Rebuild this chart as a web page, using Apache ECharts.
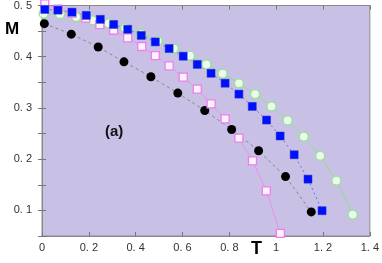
<!DOCTYPE html>
<html><head><meta charset="utf-8">
<script src="https://cdn.jsdelivr.net/npm/echarts@6/dist/echarts.min.js"></script>
<style>html,body{margin:0;padding:0;background:#fff}#c{width:382px;height:263px}</style>
</head><body><div id="c"></div>
<script>
// Black filled circles
const blackT = [0.01, 0.125, 0.24, 0.35, 0.465, 0.58, 0.695, 0.81, 0.925, 1.04, 1.15];
const blackM = [0.4645, 0.444, 0.419, 0.390, 0.361, 0.329, 0.295, 0.258, 0.2165, 0.166, 0.097];
// Blue filled squares
const blueT = [0.012, 0.068, 0.128, 0.189, 0.249, 0.306, 0.366, 0.424, 0.484, 0.543, 0.603, 0.663, 0.722, 0.782, 0.841, 0.898, 0.959, 1.017, 1.077, 1.136, 1.196];
const blueM = [0.4923, 0.491, 0.487, 0.4807, 0.473, 0.463, 0.4536, 0.4416, 0.429, 0.416, 0.401, 0.385, 0.3677, 0.3483, 0.327, 0.303, 0.2764, 0.2452, 0.2086, 0.161, 0.0994];
// Green open circles
const greenT = [0.007, 0.077, 0.146, 0.216, 0.285, 0.355, 0.424, 0.494, 0.563, 0.632, 0.702, 0.771, 0.841, 0.910, 0.980, 1.049, 1.118, 1.188, 1.257, 1.327];
const greenM = [0.484, 0.483, 0.4774, 0.471, 0.465, 0.456, 0.4445, 0.431, 0.416, 0.402, 0.385, 0.367, 0.348, 0.327, 0.303, 0.2756, 0.244, 0.2065, 0.158, 0.0917];
// Pink open squares
const pinkT = [0.012, 0.068, 0.128, 0.187, 0.247, 0.306, 0.366, 0.426, 0.484, 0.543, 0.603, 0.663, 0.722, 0.782, 0.841, 0.899, 0.958, 1.018];
const pinkM = [0.503, 0.493, 0.485, 0.4755, 0.4625, 0.4517, 0.4368, 0.42, 0.402, 0.382, 0.36, 0.3367, 0.308, 0.2785, 0.241, 0.1968, 0.1382, 0.055];

const zip = (a, b) => a.map((v, i) => [v, b[i]]);
const fmt = v => { const r = Math.round(v * 10) / 10; return r === 0 ? '0' : (r === 1 ? '1' : String(r).replace('.', '. ')); };
const axisLine = { lineStyle: { color: '#8a8a8a', width: 1 } };
const tick = { inside: true, length: 4, lineStyle: { color: '#777' } };
const lab = { color: '#333', fontSize: 11, fontFamily: 'Liberation Sans, Arial, sans-serif' };

const chart = echarts.init(document.getElementById('c'), null, { renderer: 'canvas' });
chart.setOption({
  animation: false,
  backgroundColor: '#ffffff',
  grid: { left: 42, right: 12, top: 4, bottom: 27, show: true, backgroundColor: '#c8c1e5', borderColor: '#8a8a8a', borderWidth: 1 },
  xAxis: [
    { type: 'value', min: 0, max: 1.4, interval: 0.2, position: 'bottom', axisLine, axisTick: tick, splitLine: { show: false },
      axisLabel: Object.assign({ formatter: fmt, margin: 6 }, lab) },
    { type: 'value', min: 0, max: 1.4, interval: 0.2, position: 'top', axisLine, axisTick: tick, splitLine: { show: false }, axisLabel: { show: false } }
  ],
  yAxis: [
    { type: 'value', min: 0.05, max: 0.5, interval: 0.05, position: 'left', axisLine: Object.assign({ show: true }, axisLine), axisTick: tick, splitLine: { show: false },
      axisLabel: Object.assign({ margin: 10, formatter: v => (Math.round(v * 100) % 10 === 0 ? fmt(v) : '') }, lab) },
    { type: 'value', min: 0.05, max: 0.5, interval: 0.05, position: 'right', axisLine: Object.assign({ show: true }, axisLine), axisTick: tick, splitLine: { show: false }, axisLabel: { show: false } }
  ],
  series: [
    { type: 'line', data: zip(blackT, blackM), clip: false, symbol: 'circle', symbolSize: 9,
      itemStyle: { color: '#000' }, lineStyle: { color: '#888', width: 1, type: [3, 3] } },
    { type: 'line', data: zip(greenT, greenM), clip: false, symbol: 'circle', symbolSize: 9,
      itemStyle: { color: '#eef8ee', borderColor: '#8ee88e', borderWidth: 1.3 }, lineStyle: { color: '#90e090', width: 1 } },
    { type: 'line', data: zip(pinkT, pinkM), clip: false, symbol: 'rect', symbolSize: 8,
      itemStyle: { color: '#fbf4fb', borderColor: '#f07cf0', borderWidth: 1.3 }, lineStyle: { color: '#e890e8', width: 1 } },
    { type: 'line', data: zip(blueT, blueM), clip: false, symbol: 'rect', symbolSize: 8,
      itemStyle: { color: '#0010ff', borderColor: '#2030c0', borderWidth: 0.5 }, lineStyle: { color: '#6a70e8', width: 1, type: [2, 3] } }
  ],
  graphic: [
    { type: 'text', left: 5, top: 21, style: { text: 'M', font: 'bold 17px Liberation Sans, Arial, sans-serif', fill: '#000' } },
    { type: 'text', left: 251, top: 240, style: { text: 'T', font: 'bold 18px Liberation Sans, Arial, sans-serif', fill: '#000' } },
    { type: 'text', left: 105, top: 124, style: { text: '(a)', font: 'bold 15px Liberation Sans, Arial, sans-serif', fill: '#111' } }
  ]
});
</script></body></html>
